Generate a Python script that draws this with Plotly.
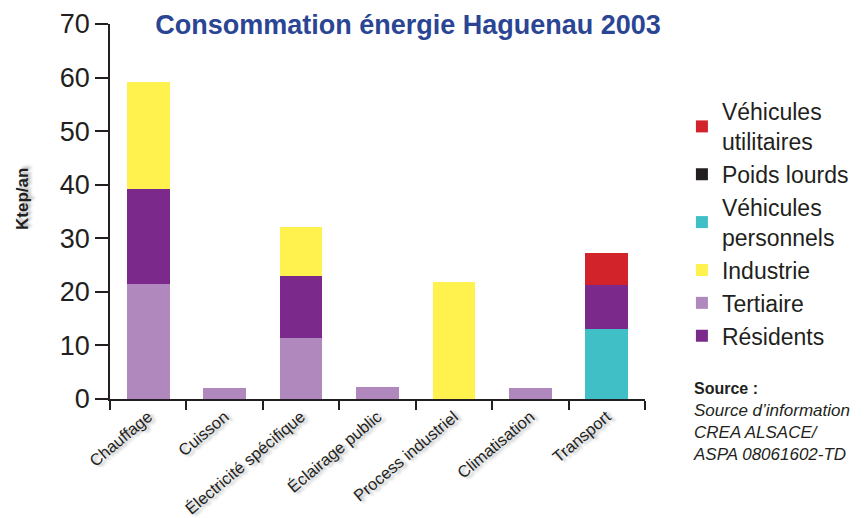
import plotly.graph_objects as go

categories = ["Chauffage", "Cuisson", "Électricité spécifique", "Éclairage public",
              "Process industriel", "Climatisation", "Transport"]

tertiaire = [21.5, 2.0, 11.4, 2.2, None, 2.0, None]
residents = [17.7, None, 11.5, None, None, None, None]
industrie = [19.9, None, 9.2, None, 21.8, None, None]
vehicules_personnels = [None, None, None, None, None, None, 13.1]
poids_lourds = [None, None, None, None, None, None, 8.2]
vehicules_utilitaires = [None, None, None, None, None, None, 5.9]

C_TERT = "#B088BD"
C_RES = "#7B2A8C"
C_IND = "#FFF24F"
C_VP = "#40C0C6"
C_PL = "#231F20"
C_VU = "#D2232A"
TXT = "#231F20"

# in the source the heavy-goods segment of the Transport bar is drawn purple
pl_colors = [C_PL] * 6 + [C_RES]

fig = go.Figure()
series = [
    ("Tertiaire", tertiaire, C_TERT, 5),
    ("Résidents", residents, C_RES, 6),
    ("Industrie", industrie, C_IND, 4),
    ("Véhicules<br>personnels", vehicules_personnels, C_VP, 3),
    ("Poids lourds", poids_lourds, pl_colors, 2),
    ("Véhicules<br>utilitaires", vehicules_utilitaires, C_VU, 1),
]
for name, vals, col, rank in series:
    fig.add_trace(go.Bar(x=categories, y=vals, name=name, legendrank=rank,
                         marker=dict(color=col, line=dict(width=0)),
                         hoverinfo="x+y+name"))

shadow = "2px 3px 3px rgba(0,0,0,0.30)"

# page body has an 8px margin, so the figure is 860x510 placed at (8, 8)
W, H = 860, 510
fig.update_layout(
    width=W, height=H,
    margin=dict(l=102, r=223, t=16, b=119, autoexpand=False),
    barmode="stack", bargap=0.44,
    paper_bgcolor="white", plot_bgcolor="white",
    font=dict(family="Liberation Sans, Arial, sans-serif", color=TXT),
    showlegend=True,
    legend=dict(x=1.069, xanchor="left", y=0.824, yanchor="top",
                traceorder="normal", font=dict(size=23, color=TXT),
                itemwidth=30, tracegroupgap=0, bgcolor="rgba(0,0,0,0)"),
    title=dict(text="<b>Consommation énergie Haguenau 2003</b>",
               x=0.557, xref="paper", xanchor="center",
               y=1 - 17 / H, yref="container", yanchor="middle",
               font=dict(family="Liberation Sans, Arial",
                         size=27, color="#2B4595")),
    xaxis=dict(showline=True, linecolor=TXT, linewidth=1.5, automargin=False,
               ticks="outside", tickson="boundaries", ticklen=9, tickwidth=1.5,
               tickcolor=TXT, tickangle=-40,
               tickfont=dict(size=16.5, color=TXT, shadow=shadow),
               showgrid=False, fixedrange=True),
    yaxis=dict(range=[0, 70], dtick=10, showline=True, linecolor=TXT, linewidth=1.5,
               automargin=False,
               ticks="outside", ticklen=13, tickwidth=1.5, tickcolor=TXT,
               tickfont=dict(size=27, color=TXT), showgrid=False, zeroline=False,
               fixedrange=True),
)

fig.add_annotation(text="<b>Ktep/an</b>", textangle=-90,
                   xref="paper", x=(22 - 110) / 535, xanchor="center",
                   yref="paper", y=(399 - 199) / 375, yanchor="middle",
                   showarrow=False, font=dict(size=17, color=TXT, shadow=shadow))

fig.add_annotation(text="<b>Source :</b>", xref="paper", x=(692 - 110) / 535, xanchor="left",
                   yref="paper", y=(399 - 388) / 375, yanchor="middle",
                   showarrow=False, font=dict(size=16, color=TXT))
fig.add_annotation(text="<i>Source d’information<br>CREA ALSACE/<br>ASPA 08061602-TD</i>",
                   xref="paper", x=(691 - 110) / 535, xanchor="left", align="left",
                   yref="paper", y=(399 - 399) / 375, yanchor="top",
                   showarrow=False, font=dict(size=17, color=TXT))

fig.write_html("out.html")
